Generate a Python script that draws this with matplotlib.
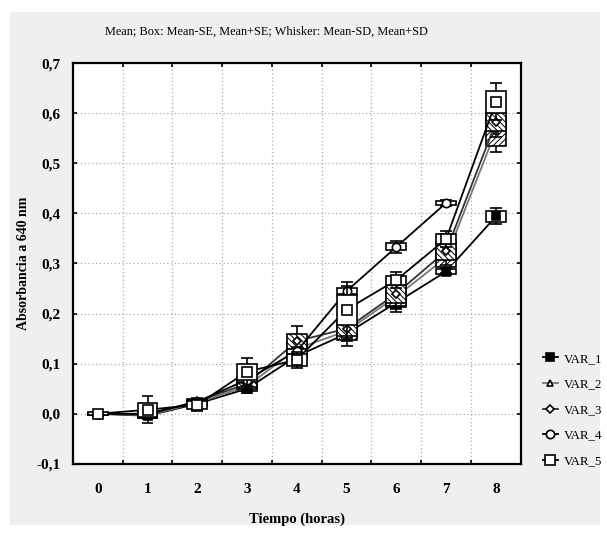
import numpy as np
import matplotlib
matplotlib.use('Agg')
import matplotlib.pyplot as plt
from matplotlib.patches import Rectangle
from matplotlib.lines import Line2D

plt.rcParams['font.family'] = ['Liberation Serif', 'DejaVu Serif']
plt.rcParams['hatch.linewidth'] = 0.7

hours = [0, 1, 2, 3, 4, 5, 6, 7, 8]
labels = ['VAR_1', 'VAR_2', 'VAR_3', 'VAR_4', 'VAR_5']

# mean, SE, SD (VAR_4 has no value at 8 h)
var1_mean = [0.0, -0.004, 0.020, 0.050, 0.115, 0.160, 0.222, 0.284, 0.394]
var1_se = [0.002, 0.004, 0.003, 0.005, 0.006, 0.008, 0.008, 0.004, 0.011]
var1_sd = [0.003, 0.007, 0.005, 0.008, 0.010, 0.013, 0.013, 0.007, 0.016]

var2_mean = [0.0, -0.003, 0.022, 0.055, 0.130, 0.165, 0.234, 0.312, 0.565]
var2_se = [0.002, 0.005, 0.004, 0.006, 0.015, 0.017, 0.018, 0.020, 0.030]
var2_sd = [0.003, 0.008, 0.007, 0.010, 0.025, 0.030, 0.030, 0.030, 0.042]

var3_mean = [0.0, -0.002, 0.025, 0.060, 0.145, 0.170, 0.240, 0.325, 0.582]
var3_se = [0.002, 0.004, 0.004, 0.006, 0.015, 0.014, 0.018, 0.018, 0.018]
var3_sd = [0.003, 0.007, 0.006, 0.010, 0.030, 0.025, 0.028, 0.028, 0.030]

var4_mean = [0.0, 0.0, 0.024, 0.068, 0.125, 0.245, 0.333, 0.421, np.nan]
var4_se = [0.002, 0.003, 0.003, 0.004, 0.005, 0.006, 0.007, 0.004, np.nan]
var4_sd = [0.003, 0.005, 0.005, 0.006, 0.008, 0.010, 0.012, 0.006, np.nan]

var5_mean = [0.0, 0.008, 0.018, 0.084, 0.108, 0.208, 0.267, 0.349, 0.623]
var5_se = [0.003, 0.014, 0.008, 0.016, 0.012, 0.030, 0.009, 0.010, 0.022]
var5_sd = [0.004, 0.027, 0.012, 0.028, 0.016, 0.056, 0.016, 0.016, 0.037]

series = [
    (var1_mean, var1_se, var1_sd),
    (var2_mean, var2_se, var2_sd),
    (var3_mean, var3_se, var3_sd),
    (var4_mean, var4_se, var4_sd),
    (var5_mean, var5_se, var5_sd),
]

# style per series: line color, marker, marker face, box hatch
styles = [
    dict(color='black', marker='s', mfc='black', ms=6, hatch=None),
    dict(color='#777777', marker='^', mfc='white', ms=5, hatch='//////'),
    dict(color='#333333', marker='D', mfc='white', ms=4, hatch='\\\\\\\\\\\\'),
    dict(color='black', marker='o', mfc='white', ms=6, hatch=None),
    dict(color='black', marker='s', mfc='white', ms=7, hatch=None),
]

fig = plt.figure(figsize=(6.07, 5.35), dpi=100)
fig.patch.set_facecolor('white')
fig.patches.append(Rectangle((0.017, 0.018), 0.972, 0.96, transform=fig.transFigure,
                             facecolor='#efefef', edgecolor='none', zorder=-10))

ax = fig.add_axes([0.120, 0.133, 0.738, 0.749])
ax.set_facecolor('white')

box_w = 0.4
cap_w = 0.24
for k, ((mean, se, sd), st) in enumerate(zip(series, styles)):
    z = 3 + k
    ax.plot(hours, mean, color=st['color'], lw=1.3, zorder=z)
    for h, m, s, d in zip(hours, mean, se, sd):
        if np.isnan(m):
            continue
        ax.vlines(h, m - d, m - s, color='black', lw=1.2, zorder=z)
        ax.vlines(h, m + s, m + d, color='black', lw=1.2, zorder=z)
        ax.hlines([m - d, m + d], h - cap_w / 2, h + cap_w / 2, color='black', lw=1.2, zorder=z)
        ax.add_patch(Rectangle((h - box_w / 2, m - s), box_w, 2 * s, facecolor='white',
                               edgecolor='black', lw=1.2, hatch=st['hatch'], zorder=z + 0.1))
        ax.plot([h], [m], marker=st['marker'], color='black', mfc=st['mfc'],
                ms=st['ms'], mew=1.2, zorder=z + 0.2)

ax.set_xlim(-0.5, 8.5)
ax.set_ylim(-0.1, 0.7)
ax.set_xticks(hours)
ax.set_xticklabels([str(h) for h in hours])
ax.set_xticks(np.arange(-0.5, 9.0, 1.0)[1:-1], minor=True)
yt = np.round(np.arange(-0.1, 0.71, 0.1), 1)
ax.set_yticks(yt)
ax.set_yticklabels([f'{v:.1f}'.replace('.', ',') for v in yt])

ax.tick_params(axis='x', which='major', length=0, pad=14, labelsize=11)
ax.tick_params(axis='x', which='minor', direction='in', length=3, top=True, bottom=True, width=1.2)
ax.tick_params(axis='y', which='major', direction='in', length=3, left=True, right=True,
               width=1.2, labelsize=11, pad=9)
for lab in ax.get_xticklabels() + ax.get_yticklabels():
    lab.set_fontweight('bold')

grid_kw = dict(color='#aaaaaa', lw=0.9, linestyle=(0, (1, 2)))
ax.grid(axis='x', which='minor', **grid_kw)
ax.grid(axis='y', which='major', **grid_kw)
ax.set_axisbelow(True)
for sp in ax.spines.values():
    sp.set_linewidth(1.6)

ax.set_xlabel('Tiempo (horas)', fontsize=10.5, fontweight='bold', labelpad=12)
ax.set_ylabel('Absorbancia a 640 nm', fontsize=10, fontweight='bold', labelpad=0)
ax.yaxis.set_label_coords(-0.095, 0.5)
fig.text(0.173, 0.935, 'Mean; Box: Mean-SE, Mean+SE; Whisker: Mean-SD, Mean+SD',
         fontsize=8.8)

handles = []
for lab, st in zip(labels, styles):
    handles.append(Line2D([0], [0], color=st['color'], lw=1.3, marker=st['marker'],
                          mfc=st['mfc'], mec='black', ms=st['ms'], mew=1.2, label=lab))
leg = fig.legend(handles=handles, loc='upper left', bbox_to_anchor=(0.881, 0.355),
                 frameon=False, handlelength=1.2, handletextpad=0.45, labelspacing=1.05,
                 borderaxespad=0.2, prop=dict(family='Liberation Serif', size=9.3))

fig.savefig('out.png', dpi=100)
